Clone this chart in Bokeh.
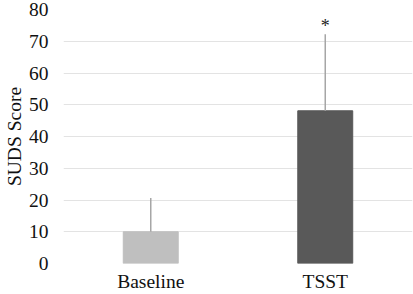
from bokeh.plotting import figure
from bokeh.models import Range1d, FactorRange, ColumnDataSource, FixedTicker
from bokeh.core.properties import value
from bokeh.embed import file_html
from bokeh.resources import INLINE

# ---- data ----
conditions = ["Baseline", "TSST"]
means = [10.0, 48.1]
sds = [10.6, 24.1]
bar_colors = ["#bfbfbf", "#595959"]
significance = ["", "*"]
y_ticks = [0, 10, 20, 30, 40, 50, 60, 70, 80]

FONT = "Liberation Serif"

src = ColumnDataSource(dict(
    cond=conditions,
    mean=means,
    top=[m + s for m, s in zip(means, sds)],
    color=bar_colors,
    sig=significance,
))

p = figure(
    x_range=FactorRange(*conditions, range_padding=0),
    y_range=Range1d(0, 80),
    width=413, height=294,
    output_backend="svg", toolbar_location=None,
    min_border_left=0, min_border_right=1,
    min_border_top=9, min_border_bottom=0,
)
p.outline_line_color = None
p.background_fill_color = "white"
p.border_fill_color = "white"

p.vbar(x="cond", top="mean", bottom=0, width=0.315, source=src,
       fill_color="color", line_color="color")
p.segment(x0="cond", y0="mean", x1="cond", y1="top", source=src,
          line_color="#a6a6a6", line_width=1.5)
p.text(x="cond", y="top", text="sig", source=src,
       text_font=value(FONT), text_font_size="18px",
       text_align="center", text_baseline="middle",
       text_color="#222222", y_offset=-8)

p.xgrid.grid_line_color = None
p.ygrid.grid_line_color = "#e3e3e3"
p.ygrid.grid_line_width = 1

p.yaxis.ticker = FixedTicker(ticks=y_ticks)
p.yaxis.axis_label = "SUDS Score"
for ax in (p.xaxis[0], p.yaxis[0]):
    ax.axis_line_color = None
    ax.major_tick_line_color = None
    ax.minor_tick_line_color = None
    ax.major_tick_out = 0
    ax.major_tick_in = 0
    ax.major_label_text_font = FONT
    ax.major_label_text_font_size = "19.5px"
    ax.major_label_text_color = "#111111"
    ax.axis_label_text_font = FONT
    ax.axis_label_text_font_size = "19.5px"
    ax.axis_label_text_font_style = "normal"
    ax.axis_label_text_color = "#111111"

p.yaxis.major_label_standoff = 15
p.yaxis.axis_label_standoff = 1
p.xaxis.major_label_standoff = 7

open("out.html", "w").write(file_html(p, INLINE))
